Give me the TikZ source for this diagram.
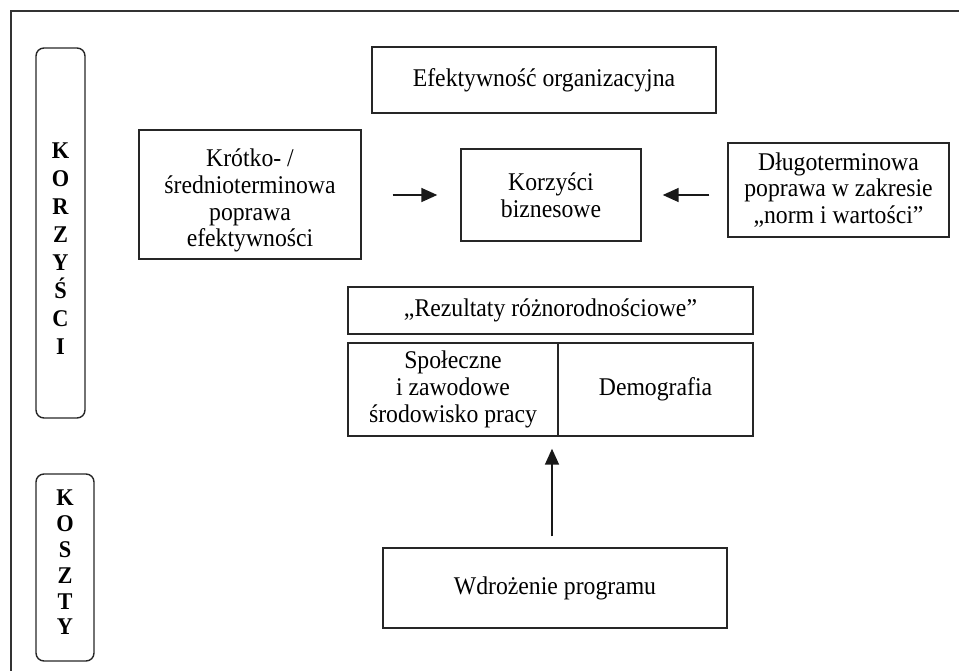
\documentclass[tikz,border=0pt]{standalone}
\usepackage{fontspec}
\setmainfont{Liberation Serif}[FakeStretch=0.93]
\usetikzlibrary{arrows.meta}
\begin{document}
\begin{tikzpicture}[x=1pt,y=-1pt,
  lw/.style={line width=1.4pt, draw=black!85},
  txt/.style={font=\fontsize{25.5}{26.8}\selectfont, align=center, inner sep=0pt},
  boxn/.style={lw, txt, rectangle},
  side/.style={lw, rounded corners=8pt},
  letters/.style={font=\fontsize{24}{28}\selectfont\bfseries, align=center, inner sep=0pt},
  arr/.style={line width=1.6pt, draw=black!90, -{Triangle[length=16pt,width=14pt]}}]
\useasboundingbox (0,0) rectangle (959,670);
\clip (0,0) rectangle (959,670);
% outer frame
\draw[line width=1.8pt, draw=black!80] (11,11) rectangle (975,690);
% side boxes
\draw[side] (36,48) rectangle (85,418);
\node[letters] (korz) at (60.5,248.5) {K\\O\\R\\Z\\Y\\Ś\\C\\I};
\draw[side] (36,474) rectangle (94,661);
\node[letters, font=\fontsize{24}{25.8}\selectfont\bfseries] (kosz) at (65,562.5) {K\\O\\S\\Z\\T\\Y};
% main boxes
\node[boxn, minimum width=344pt, minimum height=66pt] (ef) at (544,80) {Efektywność organizacyjna};
\node[boxn, minimum width=222pt, minimum height=129pt] (kr) at (250,194.5) {};
\node[txt] (krt) at ([yshift=-6pt]kr.center) {Krótko- /\\średnioterminowa\\poprawa\\efektywności};
\node[boxn, minimum width=180pt, minimum height=92pt] (kb) at (551,195) {Korzyści\\biznesowe};
\node[boxn, minimum width=221pt, minimum height=94pt] (dl) at (838.5,190) {Długoterminowa\\poprawa w zakresie\\„norm i wartości”};
\node[boxn, minimum width=405pt, minimum height=47pt] (rez) at (550.5,310.5) {„Rezultaty różnorodnościowe”};
\node[boxn, minimum width=210pt, minimum height=93pt] (spo) at (453,389.5) {Społeczne\\i zawodowe\\środowisko pracy};
\node[boxn, minimum width=195pt, minimum height=93pt] (dem) at (655.5,389.5) {Demografia};
\node[boxn, minimum width=344pt, minimum height=80pt] (wdr) at (555,588) {Wdrożenie programu};
% arrows
\draw[arr, shorten <=31pt, shorten >=23pt] (kr.east |- kb.west) -- (kb.west);
\draw[arr, shorten <=18pt, shorten >=21pt] (dl.west |- kb.east) -- (kb.east);
\draw[arr, shorten <=11pt, shorten >=12pt] ([xshift=-3pt]wdr.north) -- ([xshift=-3pt]wdr.north |- spo.south);
\end{tikzpicture}
\end{document}
